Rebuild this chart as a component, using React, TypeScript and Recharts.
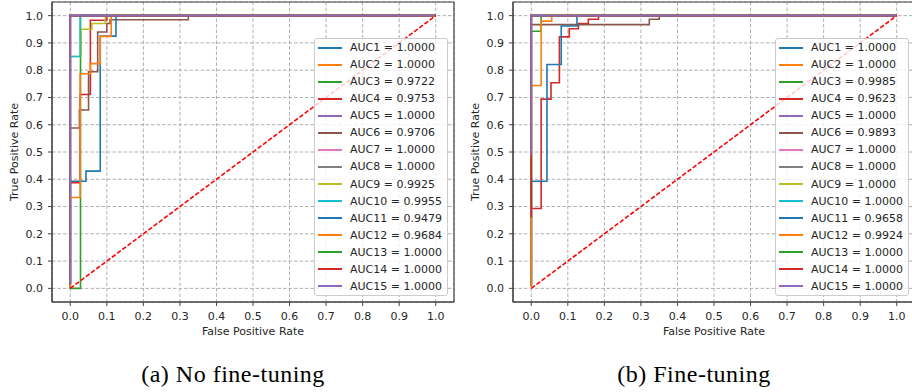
import { LineChart, Line, XAxis, YAxis, CartesianGrid, ReferenceArea, Legend } from "recharts";

const ticks = [0, 0.1, 0.2, 0.3, 0.4, 0.5, 0.6, 0.7, 0.8, 0.9, 1.0];
const colors = [
  "#1f77b4", "#ff7f0e", "#2ca02c", "#d62728", "#9467bd",
  "#8c564b", "#e377c2", "#7f7f7f", "#bcbd22", "#17becf",
  "#1f77b4", "#ff7f0e", "#2ca02c", "#d62728", "#9467bd",
];

const aucNoFt = ["1.0000", "1.0000", "0.9722", "0.9753", "1.0000", "0.9706", "1.0000", "1.0000", "0.9925", "0.9955", "0.9479", "0.9684", "1.0000", "1.0000", "1.0000"];
const aucFt = ["1.0000", "1.0000", "0.9985", "0.9623", "1.0000", "0.9893", "1.0000", "1.0000", "1.0000", "1.0000", "0.9658", "0.9924", "1.0000", "1.0000", "1.0000"];

// ROC corners [fpr, tpr], drawn as stepAfter (horizontal, then up)
const perfectNoFt = [[0, 0.015], [0, 1], [1, 1]];
const noFt3 = [[0, 0], [0.028, 1], [1, 1]];
const noFt4 = [[0, 0], [0, 0.387], [0.027, 0.711], [0.055, 0.983], [0.1, 1], [1, 1]];
const noFt6 = [[0, 0], [0, 0.588], [0.025, 0.654], [0.05, 0.794], [0.075, 0.94], [0.1, 0.971], [0.109, 0.985], [0.323, 1], [1, 1]];
const noFt9 = [[0, 0], [0, 0.85], [0.03, 0.95], [0.059, 0.971], [0.096, 1], [1, 1]];
const noFt10 = [[0, 0], [0, 0.85], [0.027, 1], [1, 1]];
const noFt11 = [[0, 0], [0, 0.393], [0.043, 0.43], [0.082, 0.925], [0.125, 1], [1, 1]];
const noFt12 = [[0, 0], [0, 0.333], [0.027, 0.787], [0.055, 0.824], [0.082, 0.924], [0.112, 1], [1, 1]];

const perfectFt = [[0, 0.01], [0, 1], [1, 1]];
const ft3 = [[0, 0.01], [0, 0.943], [0.027, 1], [1, 1]];
const ft4 = [[0, 0.01], [0, 0.293], [0.027, 0.694], [0.054, 0.754], [0.077, 0.922], [0.104, 0.952], [0.129, 0.971], [0.156, 0.987], [0.184, 1], [1, 1]];
const ft6 = [[0, 0.01], [0, 0.967], [0.323, 0.987], [0.35, 1], [1, 1]];
const ft11 = [[0, 0.01], [0, 0.393], [0.043, 0.821], [0.082, 0.962], [0.125, 1], [1, 1]];
const ft12 = [[0, 0.005], [0, 0.744], [0.027, 0.98], [0.056, 1], [1, 1]];
const ft13 = [[0, 0.3], [0, 1], [1, 1]];
const ft14 = [[0, 0.26], [0, 1], [1, 1]];
const ft15 = [[0, 0.488], [0, 1], [1, 1]];

const curvesNoFt = [
  perfectNoFt, perfectNoFt, noFt3, noFt4, perfectNoFt, noFt6, perfectNoFt, perfectNoFt,
  noFt9, noFt10, noFt11, noFt12, perfectNoFt, perfectNoFt, perfectNoFt,
];
const curvesFt = [
  perfectFt, perfectFt, ft3, ft4, perfectFt, ft6, perfectFt, perfectFt,
  perfectFt, perfectFt, ft11, ft12, ft13, ft14, ft15,
];
const diagonal = [[0, 0], [1, 1]];

const toRows = (pts: number[][]) => pts.map(([x, y]) => ({ x, y }));

const textColor = "#262626";
const frameColor = "#444444";

const RocLegend = ({ aucs }: { aucs: string[] }) => (
  <div
    style={{
      border: "1px solid #cccccc",
      borderRadius: 3,
      background: "rgba(255,255,255,0.8)",
      width: 134,
      boxSizing: "border-box",
    }}
  >
    {aucs.map((a, i) => (
      <div key={i} style={{ position: "relative", height: 17.07 }}>
        <div
          style={{
            position: "absolute",
            left: 3,
            top: 7.5,
            width: 24,
            height: 2,
            background: colors[i],
          }}
        />
        <div
          style={{
            position: "absolute",
            left: 35,
            top: 2,
            fontSize: 11,
            lineHeight: "13px",
            color: textColor,
            whiteSpace: "nowrap",
          }}
        >
          AUC{i + 1} = {a}
        </div>
      </div>
    ))}
  </div>
);

const RocPanel = ({ curves, aucs }: { curves: number[][][]; aucs: string[] }) => (
  <LineChart width={460} height={345} margin={{ top: 2, right: 6, left: 12, bottom: 3 }}>
    <CartesianGrid stroke="#b0b0b0" strokeDasharray="3.5 2" />
    <XAxis
      type="number"
      dataKey="x"
      domain={[-0.05, 1.05]}
      ticks={ticks}
      tickFormatter={(v: number) => v.toFixed(1)}
      height={40}
      tickSize={4}
      tickMargin={6}
      stroke={frameColor}
      tick={{ fontSize: 11, fill: textColor }}
      label={{ value: "False Positive Rate", position: "insideBottom", offset: 7, fontSize: 11, fill: textColor }}
    />
    <YAxis
      type="number"
      domain={[-0.05, 1.05]}
      ticks={ticks}
      tickFormatter={(v: number) => v.toFixed(1)}
      width={40}
      tickSize={4}
      tickMargin={5}
      stroke={frameColor}
      tick={{ fontSize: 11, fill: textColor }}
      label={{ value: "True Positive Rate", angle: -90, position: "insideLeft", offset: 2, fontSize: 11, fill: textColor, style: { textAnchor: "middle" } }}
    />
    <ReferenceArea x1={-0.05} x2={1.05} y1={-0.05} y2={1.05} fill="none" stroke={frameColor} strokeWidth={1.2} />
    {curves.map((c, i) => (
      <Line
        key={i}
        data={toRows(c)}
        dataKey="y"
        type="stepAfter"
        stroke={colors[i]}
        strokeWidth={1.6}
        dot={false}
        isAnimationActive={false}
      />
    ))}
    <Line
      data={toRows(diagonal)}
      dataKey="y"
      type="linear"
      stroke="#ff0000"
      strokeWidth={1.6}
      strokeDasharray="4.5 2"
      dot={false}
      isAnimationActive={false}
    />
    <Legend
      layout="vertical"
      align="center"
      verticalAlign="middle"
      wrapperStyle={{ left: 314, top: 38, width: 134 }}
      content={() => <RocLegend aucs={aucs} />}
    />
  </LineChart>
);

const captionStyle = {
  position: "absolute" as const,
  top: 361,
  width: 300,
  textAlign: "center" as const,
  fontFamily: "'Liberation Serif', 'Times New Roman', serif",
  fontSize: 24,
  letterSpacing: 0.5,
  lineHeight: "27px",
  color: "#000",
};

export default function App() {
  return (
    <div
      style={{
        position: "absolute",
        left: 0,
        top: 0,
        width: 912,
        height: 392,
        overflow: "hidden",
        background: "#fff",
        fontFamily: "'DejaVu Sans', sans-serif",
      }}
    >
      <div style={{ position: "absolute", left: 0, top: 0 }}>
        <RocPanel curves={curvesNoFt} aucs={aucNoFt} />
      </div>
      <div style={{ position: "absolute", left: 461, top: 0 }}>
        <RocPanel curves={curvesFt} aucs={aucFt} />
      </div>
      <div style={{ ...captionStyle, left: 83 }}>(a) No fine-tuning</div>
      <div style={{ ...captionStyle, left: 544 }}>(b) Fine-tuning</div>
    </div>
  );
}
